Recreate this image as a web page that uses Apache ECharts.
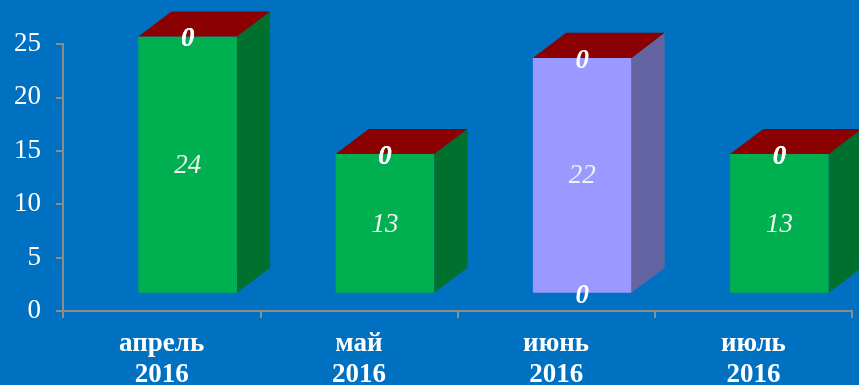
<!DOCTYPE html>
<html>
<head>
<meta charset="utf-8">
<script src="https://cdn.jsdelivr.net/npm/echarts@6/dist/echarts.min.js"></script>
<style>html,body{margin:0;padding:0;background:#0070C0;}#c{width:859px;height:385px;}</style>
</head>
<body>
<div id="c"></div>
<script>
var categories = ['апрель\n2016', 'май\n2016', 'июнь\n2016', 'июль\n2016'];
var greenValues = [24, 13, 0, 13];
var lavenderValues = [0, 0, 22, 0];
var redValues = [0, 0, 0, 0];
var yTicks = [0, 5, 10, 15, 20, 25];

var FONT = "'Liberation Serif','Times New Roman',serif";
var seriesStyles = [
  {front: '#00B050', side: '#00702F', top: '#00B050'},
  {front: '#9999FF', side: '#6464A2', top: '#9999FF'},
  {front: '#8B0000', side: '#600000', top: '#8B0000'}
];
var BASE = 1.7;          // floor offset of 3D front face (value units)
var SHIFT = 0.132;       // front-face shift right (fraction of band)
var DEPTH_X = 0.168;     // depth dx (fraction of band)
var DEPTH_Y = 2.35;      // depth dy (value units)

var chart = echarts.init(document.getElementById('c'), null, {renderer: 'canvas'});

function renderItem(params, api) {
  var i = api.value(0);
  var vals = [api.value(1), api.value(2), api.value(3)];
  var band = api.size([1, 0])[0];
  var unit = api.size([0, 1])[1];
  var cx = api.coord([i, 0])[0] + band * SHIFT;
  var w = band * 0.5;
  var x0 = cx - w / 2, x1 = cx + w / 2;
  var dx = band * DEPTH_X, dy = DEPTH_Y * unit;
  var children = [];
  var labels = [];
  var acc = BASE;
  for (var k = 0; k < 3; k++) {
    var yb = api.coord([i, acc])[1];
    var yt = api.coord([i, acc + vals[k]])[1];
    var st = seriesStyles[k];
    if (vals[k] > 0) {
      children.push({type: 'rect', shape: {x: x0, y: yt, width: w, height: yb - yt}, style: {fill: st.front}});
      children.push({type: 'polygon', shape: {points: [[x1, yt], [x1 + dx, yt - dy], [x1 + dx, yb - dy], [x1, yb]]}, style: {fill: st.side}});
    }
    labels.push({
      type: 'text',
      style: {
        text: String(vals[k]),
        x: cx, y: (yb + yt) / 2 + (vals[k] === 0 ? 3 : 1),
        align: 'center', verticalAlign: 'middle',
        fill: vals[k] === 0 ? '#FFFFFF' : '#F2F2F2',
        font: 'italic ' + (vals[k] === 0 ? 'bold ' : '') + '27px ' + FONT
      },
      z2: 10
    });
    acc += vals[k];
  }
  var ytop = api.coord([i, acc])[1];
  children.push({type: 'polygon', shape: {points: [[x0, ytop], [x0 + dx, ytop - dy], [x1 + dx, ytop - dy], [x1, ytop]]}, style: {fill: seriesStyles[2].top}});
  return {type: 'group', children: children.concat(labels)};
}

chart.setOption({
  backgroundColor: '#0070C0',
  animation: false,
  grid: {left: 63, right: 7, top: 44, bottom: 74, containLabel: false, outerBoundsMode: 'none'},
  xAxis: {
    type: 'category',
    data: categories,
    boundaryGap: true,
    axisLine: {show: true, lineStyle: {color: '#8C8C8C', width: 2}},
    axisTick: {show: true, length: 7, alignWithLabel: false, lineStyle: {color: '#8C8C8C', width: 2}},
    axisLabel: {color: '#FFFFFF', fontFamily: FONT, fontWeight: 'bold', fontSize: 27, lineHeight: 31, margin: 18}
  },
  yAxis: {
    type: 'value',
    min: yTicks[0], max: yTicks[yTicks.length - 1], interval: 5,
    axisLine: {show: true, lineStyle: {color: '#8C8C8C', width: 2}},
    axisTick: {show: true, length: 7, lineStyle: {color: '#8C8C8C', width: 2}},
    splitLine: {show: false},
    axisLabel: {color: '#FFFFFF', fontFamily: FONT, fontSize: 27, margin: 22}
  },
  series: [{
    type: 'custom',
    renderItem: renderItem,
    clip: false,
    data: categories.map(function (c, i) { return [i, greenValues[i], lavenderValues[i], redValues[i]]; })
  }]
});
</script>
</body>
</html>
